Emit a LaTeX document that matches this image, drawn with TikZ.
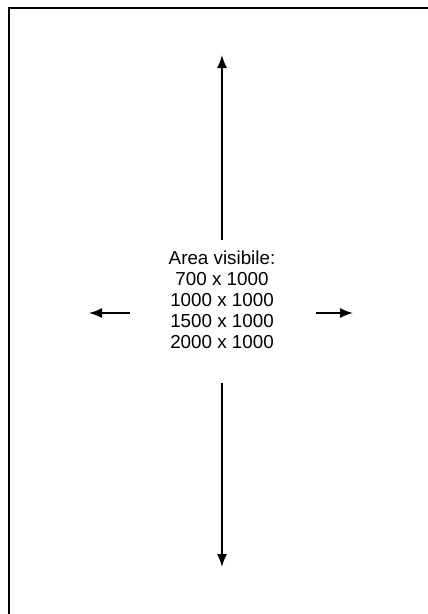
\documentclass[tikz,border=0pt]{standalone}
\usepackage{fontspec}
\setmainfont{Liberation Sans}
\usetikzlibrary{arrows.meta}
\begin{document}
\begin{tikzpicture}[x=1pt,y=-1pt,
  frame/.style={line width=2pt,black},
  arrowline/.style={line width=1.6pt,-{Latex[length=13pt,width=10pt]}},
  label/.style={align=center,font=\fontsize{18.8}{21}\selectfont,inner sep=0pt}]
\useasboundingbox (0,0) rectangle (428,614);
\fill[white] (0,0) rectangle (428,614);
\coordinate (tl) at (9,8);
\coordinate (tr) at (429,8);
\coordinate (bl) at (9,615);
\draw[frame] (tr) -- (tl) -- (bl);
\node[label] (txt) at (222,300) {Area visibile:\\700 x 1000\\1000 x 1000\\1500 x 1000\\2000 x 1000};
\coordinate (us) at (222,240);
\coordinate (ue) at (222,55);
\coordinate (ds) at (222,383);
\coordinate (de) at (222,567);
\coordinate (ls) at (130,313);
\coordinate (le) at (89,313);
\coordinate (rs) at (316,313);
\coordinate (re) at (353,313);
\draw[arrowline] (us) -- (ue);
\draw[arrowline] (ds) -- (de);
\draw[arrowline] (ls) -- (le);
\draw[arrowline] (rs) -- (re);
\end{tikzpicture}
\end{document}
